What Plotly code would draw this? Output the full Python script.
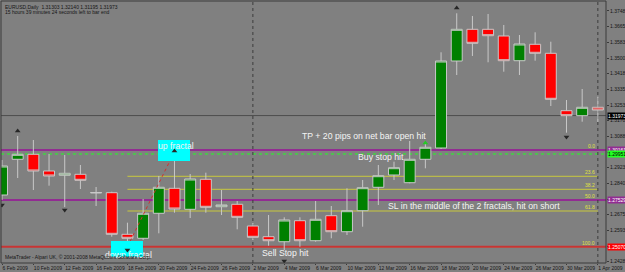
import plotly.graph_objects as go

# ---------------- data ----------------
dates = ["6 Feb 2009", "9 Feb 2009", "10 Feb 2009", "11 Feb 2009", "12 Feb 2009", "13 Feb 2009",
         "16 Feb 2009", "17 Feb 2009", "18 Feb 2009", "19 Feb 2009", "20 Feb 2009", "23 Feb 2009",
         "24 Feb 2009", "25 Feb 2009", "26 Feb 2009", "27 Feb 2009", "2 Mar 2009", "3 Mar 2009",
         "4 Mar 2009", "5 Mar 2009", "6 Mar 2009", "9 Mar 2009", "10 Mar 2009", "11 Mar 2009",
         "12 Mar 2009", "13 Mar 2009", "16 Mar 2009", "17 Mar 2009", "18 Mar 2009", "19 Mar 2009",
         "20 Mar 2009", "23 Mar 2009", "24 Mar 2009", "25 Mar 2009", "26 Mar 2009", "27 Mar 2009",
         "30 Mar 2009", "31 Mar 2009", "1 Apr 2009"]

opens = [1.27792, 1.29672, 1.29935, 1.29056, 1.28830, 1.28882, 1.27898, 1.27913, 1.25723, 1.25513,
         1.26829, 1.28145, 1.27039, 1.28619, 1.27176, 1.27303, 1.26160, 1.25596, 1.25333, 1.26439,
         1.25386, 1.26703, 1.25860, 1.26966, 1.28198, 1.28845, 1.28440, 1.29672, 1.30267, 1.34847,
         1.36516, 1.36516, 1.36164, 1.34863, 1.35727, 1.35253, 1.32231, 1.31967, 1.32410]
highs = [1.29635, 1.30899, 1.30688, 1.29951, 1.29898, 1.29372, 1.28213, 1.27966, 1.26334, 1.27582,
         1.28793, 1.30072, 1.28898, 1.28966, 1.28055, 1.27476, 1.26318, 1.26739, 1.26618, 1.26618,
         1.27476, 1.27213, 1.28145, 1.28582, 1.29372, 1.29546, 1.30635, 1.30598, 1.35305, 1.37359,
         1.37217, 1.37322, 1.36743, 1.36216, 1.36358, 1.35863, 1.32794, 1.33373, 1.32968]
lows = [1.27529, 1.28687, 1.28055, 1.28282, 1.27160, 1.28108, 1.27213, 1.25596, 1.25081, 1.25423,
        1.25775, 1.26860, 1.26581, 1.26860, 1.26739, 1.25986, 1.25423, 1.25123, 1.24896, 1.25070,
        1.25333, 1.25513, 1.25686, 1.26123, 1.27266, 1.28582, 1.28408, 1.29198, 1.30214, 1.34110,
        1.35111, 1.34779, 1.34284, 1.34110, 1.34863, 1.32478, 1.31072, 1.31651, 1.31636]
closes = [1.29319, 1.29935, 1.29056, 1.28793, 1.28935, 1.28566, 1.27924, 1.25723, 1.25513, 1.26829,
          1.28198, 1.27055, 1.28635, 1.27145, 1.27266, 1.26618, 1.25565, 1.25386, 1.26476, 1.25386,
          1.26513, 1.25860, 1.26966, 1.28177, 1.28808, 1.29230, 1.29672, 1.30304, 1.34847, 1.36516,
          1.35779, 1.36179, 1.34863, 1.35742, 1.35253, 1.32831, 1.31967, 1.32410, 1.32267]

price_ticks = [1.37480, 1.36655, 1.35830, 1.35005, 1.34180, 1.33355, 1.32530, 1.31705, 1.30880,
               1.30055, 1.29230, 1.28405, 1.27580, 1.26755, 1.25930, 1.25105, 1.24280]
price_tick_labels = ["1.37480", "1.36655", "1.35830", "1.35005", "1.34180", "1.33355", "1.32530",
                     "1.31705", "1.30880", "1.30055", "1.29230", "1.28405", "1.27580", "1.26755",
                     "1.25930", "1.25105", "1.24280"]

# fractal arrows (bar index, price)
up_fractal_bars = [1, 11, 29]
up_fractal_prices = [1.31162, 1.30109, 1.37638]
down_fractal_bars = [0, 4, 8, 18, 36]
down_fractal_prices = [1.27266, 1.27002, 1.24896, 1.24317, 1.30846]
order_arrow_bars = [27]
order_arrow_prices = [1.30530]

# horizontal lines: price, role
hline_prices = [1.30161, 1.29951, 1.27529, 1.25070, 1.31973]
hline_names = ["upper", "buystop", "middle", "sellstop", "bid"]

# fibonacci retracement
fib_start_bar, fib_end_bar = 8, 38
fib_levels = ["0.0", "23.6", "38.2", "50.0", "61.8", "100.0"]
fib_prices = [1.30161, 1.28777, 1.28092, 1.27529, 1.26950, 1.25070]
fib_trend_bars = [8, 11]
fib_trend_prices = [1.25070, 1.30072]

period_separator_bars = [16, 38]

# cyan fractal boxes: (bar from, bar to), (price low, price high)
box_bars = [(6.95, 8.99), (9.95, 11.99)]
box_prices = [(1.24528, 1.25370), (1.29582, 1.30688)]

# ---------------- figure ----------------
BG = "#808080"
FRAME = "#3a3a3a"
TXT = "#161616"
idx = list(range(len(dates)))
X_RANGE = [-0.064, 38.52]
Y_RANGE = [1.24212, 1.38006]

fig = go.Figure()

fig.add_trace(go.Candlestick(
    x=idx, open=opens, high=highs, low=lows, close=closes,
    increasing=dict(fillcolor="#008000", line=dict(color="#c8c8c8", width=1)),
    decreasing=dict(fillcolor="#ff0000", line=dict(color="#c8c8c8", width=1)),
    whiskerwidth=0, showlegend=False, hoverinfo="skip"))

fig.add_trace(go.Scatter(x=fib_trend_bars, y=fib_trend_prices, mode="lines",
                         line=dict(color="#d03030", width=1, dash="dot"),
                         showlegend=False, hoverinfo="skip"))

for (b0, b1), (p0, p1) in zip(box_bars, box_prices):
    fig.add_trace(go.Scatter(x=[b0, b1, b1, b0, b0], y=[p0, p0, p1, p1, p0], mode="lines",
                             fill="toself", fillcolor="#00ffff", line=dict(width=0, color="#00ffff"),
                             showlegend=False, hoverinfo="skip"))

fig.add_trace(go.Scatter(x=up_fractal_bars, y=up_fractal_prices, mode="markers",
                         marker=dict(symbol="triangle-up", size=5, color="#262626"),
                         showlegend=False, hoverinfo="skip"))
fig.add_trace(go.Scatter(x=down_fractal_bars, y=down_fractal_prices, mode="markers",
                         marker=dict(symbol="triangle-down", size=5, color="#262626"),
                         showlegend=False, hoverinfo="skip"))
fig.add_trace(go.Scatter(x=order_arrow_bars, y=order_arrow_prices, mode="markers",
                         marker=dict(symbol="triangle-up", size=5, color="#22cc22"),
                         showlegend=False, hoverinfo="skip"))

shapes = []
for p in fib_prices:
    shapes.append(dict(type="line", xref="x", yref="y", x0=fib_start_bar, x1=fib_end_bar,
                       y0=p, y1=p, line=dict(color="#c8c83c", width=1), layer="below"))
hline_styles = {
    "upper": dict(color="#922c92", width=2),
    "buystop": dict(color="#22ff22", width=1, dash="dot"),
    "middle": dict(color="#922c92", width=2),
    "sellstop": dict(color="#c83434", width=2),
    "bid": dict(color="#4c4c4c", width=1),
}
for p, n in zip(hline_prices, hline_names):
    shapes.append(dict(type="line", xref="x", yref="y", x0=X_RANGE[0], x1=X_RANGE[1], y0=p, y1=p,
                       line=hline_styles[n], layer="below"))
for b in period_separator_bars:
    shapes.append(dict(type="line", xref="x", yref="y", x0=b, x1=b, y0=Y_RANGE[0], y1=Y_RANGE[1],
                       line=dict(color="#3c3c3c", width=1, dash="dot"), layer="below"))
shapes.append(dict(type="rect", xref="paper", yref="paper", x0=0, x1=1, y0=0, y1=1,
                   line=dict(color=FRAME, width=1), fillcolor="rgba(0,0,0,0)", layer="above"))

annotations = []
font_main = "Liberation Sans, Arial, sans-serif"
for lab, p in zip(fib_levels, fib_prices):
    annotations.append(dict(x=fib_end_bar - 0.05, y=p, xref="x", yref="y", text=lab, showarrow=False,
                            xanchor="right", yanchor="bottom", yshift=-1,
                            font=dict(size=5, color="#e0e040", family=font_main)))
label_bg = {"upper": "#922c92", "buystop": "#22ff22", "middle": "#922c92",
            "sellstop": "#ff0000", "bid": "#000000"}
label_fg = {"upper": "#ffffff", "buystop": "#000000", "middle": "#ffffff",
            "sellstop": "#ffffff", "bid": "#ffffff"}
for p, n in zip(hline_prices, hline_names):
    annotations.append(dict(x=1, y=p, xref="paper", yref="y", text="%.5f" % p, showarrow=False,
                            xanchor="left", yanchor="middle", xshift=1,
                            bgcolor=label_bg[n], borderpad=0,
                            font=dict(size=5, color=label_fg[n], family=font_main)))

white = "#f4f4f4"
notes = [
    ("TP + 20 pips on net bar open hit", 19.0, 1.30877),
    ("Buy stop hit", 22.58, 1.29809),
    ("SL in the middle of the 2 fractals, hit on short", 24.49, 1.27213),
    ("Sell Stop hit", 16.45, 1.24739),
    ("up fractal", 9.82, 1.30346),
    ("down fractal", 6.44, 1.24633),
]
for t, xb, yp in notes:
    annotations.append(dict(x=xb, y=yp, xref="x", yref="y", text=t, showarrow=False,
                            xanchor="left", yanchor="middle",
                            font=dict(size=8.7, color=white, family=font_main)))

annotations.append(dict(x=0, y=1, xref="paper", yref="paper", xanchor="left", yanchor="top",
                        xshift=2, yshift=-1, showarrow=False,
                        text="EURUSD,Daily  1.31303 1.32140 1.31195 1.31973",
                        font=dict(size=5, color=TXT, family=font_main)))
annotations.append(dict(x=0, y=1, xref="paper", yref="paper", xanchor="left", yanchor="top",
                        xshift=2, yshift=-6, showarrow=False,
                        text="15 hours 39 minutes 24 seconds left to bar end",
                        font=dict(size=5, color=TXT, family=font_main)))
annotations.append(dict(x=0, y=0, xref="paper", yref="paper", xanchor="left", yanchor="bottom",
                        xshift=2, yshift=1, showarrow=False,
                        text="MetaTrader - Alpari UK, © 2001-2008 MetaQuotes Software Corp.",
                        font=dict(size=5, color=TXT, family=font_main)))

fig.update_layout(
    width=625, height=272,
    margin=dict(l=1, r=19, t=1, b=9, autoexpand=False),
    paper_bgcolor=BG, plot_bgcolor=BG,
    boxgap=0.3, boxgroupgap=0,
    shapes=shapes, annotations=annotations,
    showlegend=False,
    xaxis=dict(range=X_RANGE, tickvals=idx[::2], ticktext=dates[::2],
               ticklabelposition="outside right", tickangle=0,
               tickfont=dict(size=5, color=TXT, family=font_main),
               ticks="outside", ticklen=1, tickcolor=FRAME, ticklabelstandoff=0,
               showline=False,
               showgrid=False, zeroline=False, rangeslider=dict(visible=False), fixedrange=True),
    yaxis=dict(range=Y_RANGE, side="right", tickvals=price_ticks, ticktext=price_tick_labels,
               tickfont=dict(size=5, color=TXT, family=font_main),
               ticks="outside", ticklen=2, tickcolor=FRAME,
               showline=False,
               showgrid=False, zeroline=False, fixedrange=True),
)

fig.write_html("out.html")
